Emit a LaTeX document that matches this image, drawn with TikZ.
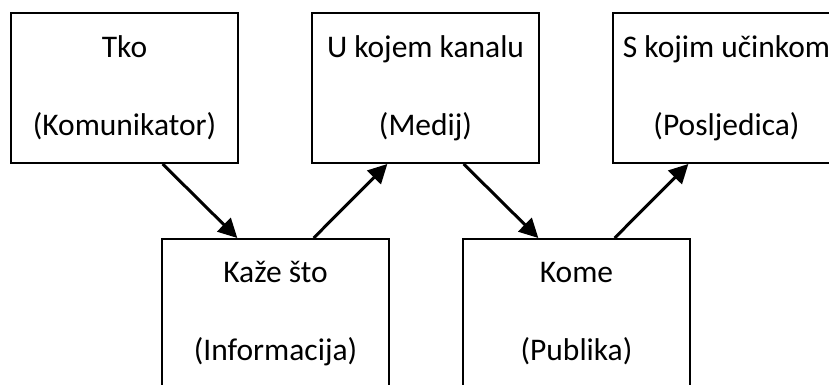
\documentclass[tikz,border=0pt]{standalone}
\usepackage{fontspec}
\setmainfont{Carlito}
\usetikzlibrary{arrows.meta,calc}
\begin{document}
\begin{tikzpicture}[x=1pt,y=1pt,
  box/.style={draw=black,line width=2pt,minimum width=227pt,minimum height=150pt,inner sep=0pt,
    align=center,font=\fontsize{31.5}{78}\selectfont,text=black},
  arr/.style={line width=3pt,-{Triangle[length=19pt,width=19pt]}}]
\useasboundingbox (0,0) rectangle (829,385);
\fill[white] (0,0) rectangle (829,385);
\node[box] (b1) at (124.5,297) {Tko\\(Komunikator)};
\node[box] (b2) at (425.5,297) {U kojem kanalu\\(Medij)};
\node[box] (b3) at (726.5,297) {S kojim učinkom\\(Posljedica)};
\node[box] (k1) at (275.5,71) {Kaže što\\(Informacija)};
\node[box] (k2) at (576.5,71) {Kome\\(Publika)};
\draw[arr] ($(b1.south west)!2/3!(b1.south east)$) -- ($(k1.north west)!1/3!(k1.north east)$);
\draw[arr] ($(k1.north west)!2/3!(k1.north east)$) -- ($(b2.south west)!1/3!(b2.south east)$);
\draw[arr] ($(b2.south west)!2/3!(b2.south east)$) -- ($(k2.north west)!1/3!(k2.north east)$);
\draw[arr] ($(k2.north west)!2/3!(k2.north east)$) -- ($(b3.south west)!1/3!(b3.south east)$);
\end{tikzpicture}
\end{document}
